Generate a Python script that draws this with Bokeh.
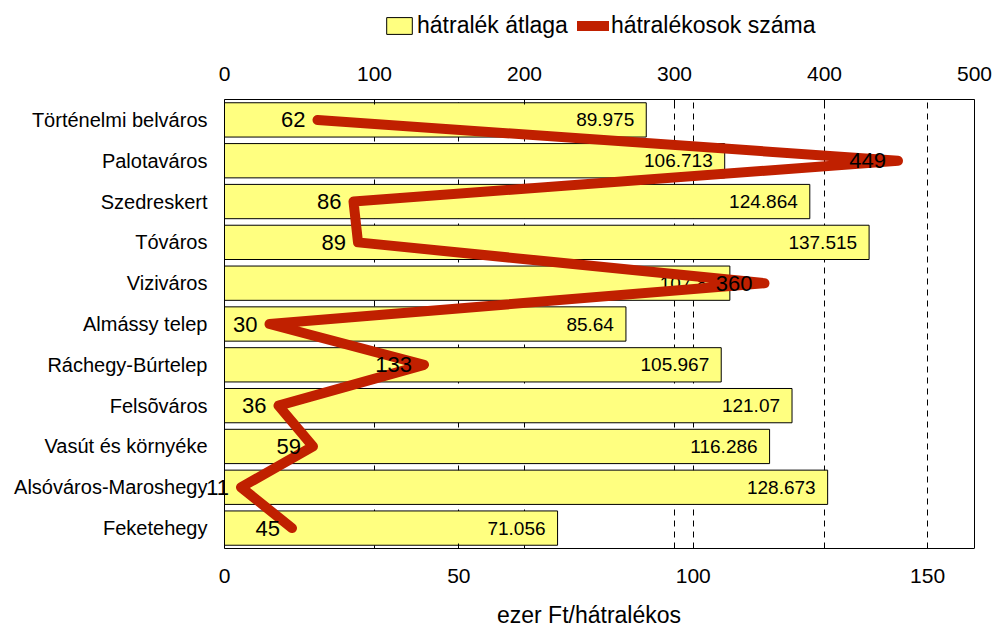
from bokeh.plotting import figure
from bokeh.layouts import column
from bokeh.models import (ColumnDataSource, Range1d, FactorRange, LinearAxis, FixedTicker,
                          Grid, Legend, LegendItem, LabelSet, Span)
from bokeh.core.properties import value
from bokeh.embed import file_html
from bokeh.resources import INLINE

categories = ["Történelmi belváros", "Palotaváros", "Szedreskert", "Tóváros", "Viziváros",
              "Almássy telep", "Ráchegy-Búrtelep", "Felsõváros", "Vasút és környéke",
              "Alsóváros-Maroshegy", "Feketehegy"]
atlag = [89.975, 106.713, 124.864, 137.515, 107.81, 85.64, 105.967, 121.07, 116.286, 128.673, 71.056]
atlag_labels = ["89.975", "106.713", "124.864", "137.515", "107.81", "85.64", "105.967",
                "121.07", "116.286", "128.673", "71.056"]
szama = [62, 449, 86, 89, 360, 30, 133, 36, 59, 11, 45]
bottom_ticks = [0, 50, 100, 150]
top_ticks = [0, 100, 200, 300, 400, 500]
series_names = ["hátralék átlaga", "hátralékosok száma"]
bottom_max = 160
top_max = 500

FONT = "Liberation Sans"
BAR_FILL = "#FFFF80"
LINE_COLOR = "#C02000"

src = ColumnDataSource(dict(cat=categories, avg=atlag, avg_label=atlag_labels,
                            cnt=szama, cnt_label=[str(v) for v in szama]))

# frame extends a little left of zero so that the "11" label is not clipped
PX_PER_UNIT = 750 / bottom_max
x_start = -23 / PX_PER_UNIT
x_end = bottom_max + 2 / PX_PER_UNIT
scale_top = top_max / bottom_max

# ---------------- legend strip ----------------
leg = figure(width=994, height=40, output_backend="svg", toolbar_location=None,
             x_range=Range1d(0, 1), y_range=Range1d(0, 1), min_border=0,
             x_axis_location=None, y_axis_location=None)
leg.xgrid.visible = False
leg.ygrid.visible = False
leg.outline_line_color = None
lb = leg.hbar(y=[-5], right=[1], left=0, height=0.5, fill_color=BAR_FILL, line_color="black")
ll = leg.line(x=[-5, -4], y=[-5, -5], line_width=10, line_color=LINE_COLOR, line_cap="round")
legend = Legend(items=[LegendItem(label=series_names[0], renderers=[lb]),
                       LegendItem(label=series_names[1], renderers=[ll])],
                location=(182, 1), orientation="horizontal",
                label_text_font=FONT, label_text_font_size="23px", label_text_color="black",
                glyph_width=32, glyph_height=21, label_standoff=2, spacing=9,
                padding=0, margin=0, border_line_color=None, background_fill_alpha=0)
leg.add_layout(legend)

# ---------------- main chart ----------------
p = figure(y_range=FactorRange(*list(reversed(categories))), x_range=Range1d(x_start, x_end),
           width=994, height=590, output_backend="svg", toolbar_location=None,
           min_border_left=201, min_border_right=18, min_border_top=59, min_border_bottom=81,
           x_axis_location=None)
p.extra_x_ranges = {"top": Range1d(x_start * scale_top, x_end * scale_top)}

p.xgrid.visible = False
p.ygrid.visible = False
p.outline_line_color = None
p.background_fill_color = "white"
p.border_fill_color = "white"

bax = LinearAxis(ticker=FixedTicker(ticks=bottom_ticks), axis_label="ezer Ft/hátralékos",
                 bounds=(0, bottom_max))
tax = LinearAxis(x_range_name="top", ticker=FixedTicker(ticks=top_ticks), bounds=(0, top_max))
for ax in (bax, tax):
    ax.major_label_text_font = FONT
    ax.major_label_text_font_size = "21px"
    ax.major_label_text_color = "black"
    ax.axis_line_color = "black"
    ax.major_tick_in = 5
    ax.major_tick_out = 0
    ax.minor_tick_line_color = None
    ax.major_tick_line_color = "black"
    ax.axis_label_text_font = FONT
    ax.axis_label_text_font_style = "normal"
    ax.axis_label_text_color = "black"
bax.major_label_standoff = 20
bax.axis_label_standoff = 16
bax.axis_label_text_font_size = "23px"
tax.major_label_standoff = 19
p.add_layout(bax, "below")
p.add_layout(tax, "above")

yax = p.yaxis[0]
yax.major_label_text_font = FONT
yax.major_label_text_font_size = "20px"
yax.major_label_text_color = "black"
yax.major_tick_line_color = None
yax.major_tick_out = 0
yax.major_tick_in = 0
yax.minor_tick_line_color = None
yax.major_label_standoff = -6
yax.axis_line_color = None

# frame borders at 0 and at the end of the scale
p.add_layout(Span(location=0, dimension="height", line_color="black", line_width=1))
p.add_layout(Span(location=bottom_max, dimension="height", line_color="black", line_width=1))

g1 = Grid(dimension=0, ticker=FixedTicker(ticks=[50, 100, 150]),
          grid_line_color="black", grid_line_dash="6 5", grid_line_width=1)
g2 = Grid(dimension=0, ticker=FixedTicker(ticks=[100, 200, 300, 400]), x_range_name="top",
          grid_line_color="black", grid_line_dash="6 5", grid_line_width=1)
p.add_layout(g1)
p.add_layout(g2)

bars = p.hbar(y="cat", right="avg", left=0, height=0.84, source=src,
              fill_color=BAR_FILL, line_color="black", line_width=1)
p.text(x="avg", y="cat", text="avg_label", source=src, x_offset=-12,
       text_align="right", text_baseline="middle", text_font=value(FONT),
       text_font_size="19px", text_color="black")
line = p.line(x="cnt", y="cat", source=src, x_range_name="top", line_width=10,
              line_color=LINE_COLOR, line_cap="round", line_join="round")
labels = LabelSet(x="cnt", y="cat", text="cnt_label", source=src, x_range_name="top",
                  x_offset=-12, text_align="right", text_baseline="middle",
                  text_font=value(FONT), text_font_size="22px", text_color="black")
p.add_layout(labels)

layout = column(leg, p, spacing=0)
open("out.html", "w").write(file_html(layout, INLINE))
